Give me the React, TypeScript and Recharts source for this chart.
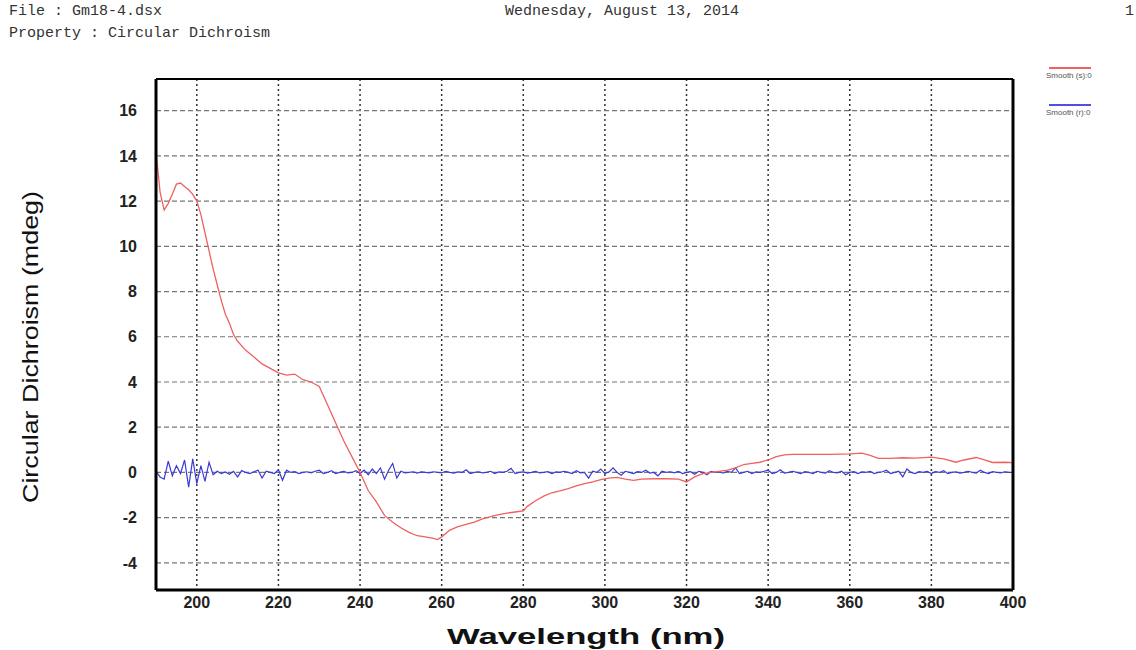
import React from 'react';
import {
  LineChart, Line, XAxis, YAxis, CartesianGrid
} from 'recharts';

// sample trace (red)
const redWl = [
  190, 190.5, 191, 192, 193, 194, 195, 196, 197, 198, 199, 200, 201, 202, 203, 204, 205, 206, 207, 208, 209,
  210, 212, 214, 216, 218, 220, 222, 224, 226, 228, 230, 232, 234, 236, 238, 240, 242, 244, 246, 248,
  250, 252, 254, 256, 258, 259, 260, 262, 264, 266, 268, 270, 272, 274, 276, 278, 280, 281, 283, 285,
  287, 289, 291, 293, 295, 297, 299, 301, 303, 305, 307, 309, 312, 315, 318, 320, 322, 324, 326, 328,
  330, 332, 334, 336, 338, 340, 342, 344, 346, 350, 355, 360, 363, 365, 367, 370, 373, 376, 380, 383,
  386, 388, 391, 393, 395, 398, 400,
];
const redCd = [
  14.1, 13.3, 12.4, 11.6, 11.9, 12.3, 12.75, 12.8, 12.65, 12.5, 12.3, 12.0, 11.4, 10.6, 9.8, 9.0, 8.3, 7.6, 7.0, 6.6, 6.1,
  5.8, 5.4, 5.1, 4.8, 4.6, 4.4, 4.3, 4.35, 4.1, 4.0, 3.8, 3.0, 2.2, 1.4, 0.7, 0.0, -0.8, -1.3, -1.9, -2.2,
  -2.45, -2.65, -2.8, -2.85, -2.92, -2.97, -2.85, -2.55, -2.4, -2.3, -2.2, -2.05, -1.95, -1.87, -1.8, -1.75, -1.7, -1.5, -1.25, -1.05,
  -0.9, -0.82, -0.72, -0.6, -0.5, -0.42, -0.32, -0.25, -0.22, -0.3, -0.35, -0.3, -0.28, -0.28, -0.3, -0.42, -0.2, -0.05, 0.0, 0.05,
  0.1, 0.2, 0.35, 0.4, 0.45, 0.55, 0.7, 0.78, 0.8, 0.8, 0.8, 0.82, 0.85, 0.75, 0.62, 0.62, 0.65, 0.63, 0.68, 0.6,
  0.45, 0.55, 0.66, 0.55, 0.44, 0.45, 0.43,
];

// reference trace (blue), one value per nm from 190
const blueStart = 190;
const blueCd = [
  0.05, -0.2, -0.3, 0.5, -0.15, 0.3, -0.05, 0.55, -0.65, 0.6,
  -0.5, 0.3, -0.4, 0.45, -0.1, 0.05, -0.05, 0.02, -0.08, 0.05,
  -0.2, 0.08, 0.0, -0.05, 0.03, 0.1, -0.25, 0.05, 0.0, -0.05,
  0.12, -0.35, 0.1, 0.0, 0.03, -0.05, 0.0, 0.03, -0.02, 0.05,
  0.1, -0.05, 0.0, 0.08, -0.05, 0.0, 0.05, -0.02, 0.0, 0.08,
  -0.05, 0.1, -0.1, 0.15, -0.05, 0.2, -0.3, 0.1, 0.4, -0.25,
  0.05, -0.02, 0.0, 0.03, -0.03, 0.02, 0.0, -0.02, 0.03, 0.0,
  -0.02, 0.05, 0.0, -0.03, 0.02, 0.0, 0.12, -0.05, 0.0, 0.03,
  -0.02, 0.0, 0.05, -0.05, 0.02, 0.0, 0.05, 0.18, -0.05, 0.0,
  0.02, -0.03, 0.0, 0.05, -0.02, 0.0, 0.03, -0.05, 0.02, 0.0,
  0.05, 0.0, -0.05, 0.08, -0.02, 0.0, -0.25, 0.05, 0.0, 0.15,
  -0.05, 0.02, 0.2, 0.0, -0.12, 0.05, 0.0, -0.05, 0.03, 0.0,
  0.1, -0.03, 0.0, -0.15, 0.05, 0.0, 0.03, -0.02, 0.05, -0.05,
  0.0, 0.03, -0.08, 0.05, 0.0, -0.1, 0.05, 0.0, 0.03, -0.03,
  0.05, 0.0, 0.2, -0.05, 0.0, 0.05, -0.05, 0.02, 0.0, 0.05,
  0.1, -0.05, 0.0, 0.12, -0.03, 0.0, 0.05, 0.0, -0.05, 0.03,
  0.0, -0.05, 0.05, 0.0, -0.03, 0.08, 0.0, -0.02, 0.05, -0.1,
  0.0, 0.03, -0.05, 0.02, 0.0, 0.05, -0.05, 0.0, 0.03, 0.1,
  -0.05, 0.0, 0.05, -0.2, 0.15, 0.0, -0.05, 0.03, 0.0, 0.05,
  -0.05, 0.03, 0.0, 0.08, -0.05, 0.0, 0.02, -0.03, 0.0, 0.05,
  0.0, -0.03, 0.1, 0.0, -0.05, 0.03, 0.0, -0.02, 0.03, 0.0,
  0.0,
];

const xTicks = [200, 220, 240, 260, 280, 300, 320, 340, 360, 380, 400];
const yTicks = [-4, -2, 0, 2, 4, 6, 8, 10, 12, 14, 16];

const legendItems = [
  { label: 'Smooth (s):0', color: '#f06060' },
  { label: 'Smooth (r):0', color: '#5050e0' },
];

const redData = redWl.map((wl, i) => ({ wl, cd: redCd[i] }));
const blueData = blueCd.map((cd, i) => ({ wl: blueStart + i, cd }));

const mono = '"Liberation Mono", "DejaVu Sans Mono", monospace';
const sans = '"Liberation Sans", Arial, sans-serif';

const headerStyle: React.CSSProperties = {
  position: 'absolute', fontFamily: mono, fontSize: 15, color: '#333', whiteSpace: 'pre', lineHeight: '16px',
};

const SideLegend = () => (
  <div style={{ position: 'absolute', left: 1046, top: 67, width: 90 }}>
    {legendItems.map((it) => (
      <div key={it.label} style={{ height: 37 }}>
        <div style={{ marginLeft: 3, width: 42, height: 0, borderTop: `2px solid ${it.color}` }} />
        <div style={{ fontFamily: sans, fontSize: 8, color: '#555', marginTop: 2 }}>{it.label}</div>
      </div>
    ))}
  </div>
);

const App = () => {
  return (
    <div style={{ position: 'absolute', left: 0, top: 0, width: 1136, height: 650, background: '#fff' }}>
      <div style={{ ...headerStyle, left: 9, top: 4 }}>File : Gm18-4.dsx</div>
      <div style={{ ...headerStyle, left: 9, top: 26 }}>Property : Circular Dichroism</div>
      <div style={{ ...headerStyle, left: 505, top: 4 }}>Wednesday, August 13, 2014</div>
      <div style={{ ...headerStyle, left: 1125, top: 4 }}>1</div>
      <SideLegend />

      <LineChart
        width={1136}
        height={650}
        margin={{ top: 78, right: 122, left: 96, bottom: 20 }}
        style={{ position: 'absolute', left: 0, top: 0 }}
      >
        <CartesianGrid xAxisId="b" yAxisId="l" horizontal={false} stroke="#333"
          strokeDasharray="2 3" strokeWidth={1.5} />
        <CartesianGrid xAxisId="b" yAxisId="l" vertical={false} stroke="#777"
          strokeDasharray="5 3" strokeWidth={1.2} />
        <XAxis
          xAxisId="b" type="number" dataKey="wl" domain={[190, 400]} ticks={xTicks}
          allowDataOverflow height={40} tickSize={0} tickMargin={7}
          axisLine={{ stroke: '#000', strokeWidth: 3 }}
          tick={{ fill: '#222', fontFamily: sans, fontSize: 16, fontWeight: 'bold' }}
          label={() => (
            <text x={586} y={644} textAnchor="middle" textLength={278} lengthAdjust="spacingAndGlyphs"
              style={{ fontFamily: sans, fontSize: 22, fontWeight: 'bold', fill: '#111' }}>
              Wavelength (nm)
            </text>
          )}
        />
        <XAxis xAxisId="t" orientation="top" type="number" dataKey="wl" domain={[190, 400]} height={1}
          tick={false} tickLine={false} axisLine={{ stroke: '#000', strokeWidth: 2 }} />
        <YAxis
          yAxisId="l" type="number" domain={[-5.2, 17.4]} ticks={yTicks} allowDataOverflow
          width={60} tickSize={0} tickMargin={19}
          axisLine={{ stroke: '#000', strokeWidth: 3 }}
          tick={{ fill: '#222', fontFamily: sans, fontSize: 16, fontWeight: 'bold' }}
          label={() => (
            <text x={38} y={347} textAnchor="middle" transform="rotate(-90 38 347)"
              textLength={312} lengthAdjust="spacingAndGlyphs"
              style={{ fontFamily: sans, fontSize: 22, fill: '#111' }}>
              Circular Dichroism (mdeg)
            </text>
          )}
        />
        <YAxis yAxisId="r" orientation="right" type="number" domain={[-5.2, 17.4]} width={1}
          tick={false} tickLine={false} axisLine={{ stroke: '#000', strokeWidth: 3 }} />
        <Line xAxisId="b" yAxisId="l" data={blueData} dataKey="cd" type="linear" stroke="#3a3ad8"
          strokeWidth={1.2} dot={false} isAnimationActive={false} name="Smooth (r):0" />
        <Line xAxisId="b" yAxisId="l" data={redData} dataKey="cd" type="linear" stroke="#f06060"
          strokeWidth={1.3} dot={false} isAnimationActive={false} name="Smooth (s):0" />
      </LineChart>
    </div>
  );
};

export default App;
